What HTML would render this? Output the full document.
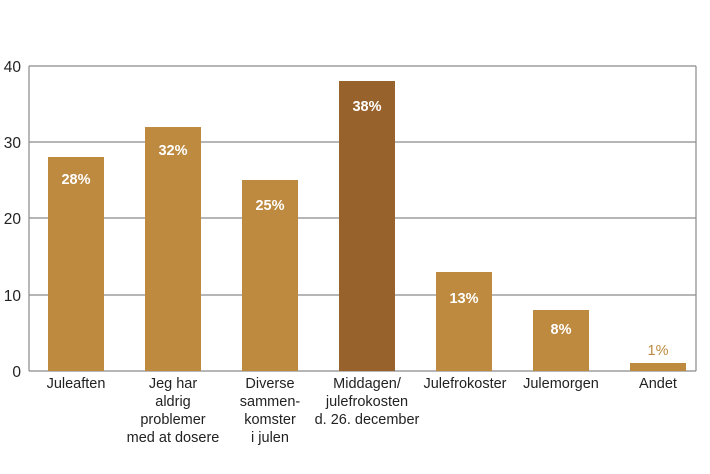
<!DOCTYPE html>
<html><head><style>body{margin:0;background:#fff}svg{display:block}text{font-family:"Liberation Sans",sans-serif}</style></head><body>
<svg width="710" height="474" xmlns="http://www.w3.org/2000/svg">
<g stroke="#8a8a8a" stroke-width="1.2">
<line x1="29" y1="66" x2="696" y2="66"/><line x1="29" y1="142" x2="696" y2="142"/><line x1="29" y1="218" x2="696" y2="218"/><line x1="29" y1="295" x2="696" y2="295"/><line x1="29" y1="371" x2="696" y2="371"/>
<line x1="29" y1="66" x2="29" y2="371"/><line x1="696" y1="66" x2="696" y2="371"/>
</g>
<g font-size="15.5" fill="#222" text-anchor="end">
<text x="21" y="72">40</text><text x="21" y="148">30</text><text x="21" y="224">20</text><text x="21" y="301">10</text><text x="21" y="377">0</text>
</g>
<g fill="#bd8a3f">
<rect x="48" y="157" width="56" height="214"/><rect x="145" y="127" width="56" height="244"/><rect x="242" y="180" width="56" height="191"/>
<rect x="339" y="81" width="56" height="290" fill="#98622c"/>
<rect x="436" y="272" width="56" height="99"/><rect x="533" y="310" width="56" height="61"/><rect x="630" y="363" width="56" height="8"/>
</g>
<g font-size="14.5" font-weight="bold" fill="#fff" text-anchor="middle">
<text x="76" y="184">28%</text><text x="173" y="155">32%</text><text x="270" y="210">25%</text><text x="367" y="111">38%</text><text x="464" y="303">13%</text><text x="561" y="334">8%</text>
<text x="658" y="355" fill="#bd8a3f" font-weight="normal">1%</text>
</g>
<g font-size="14.5" fill="#222" text-anchor="middle">
<text x="76" y="388">Juleaften</text>
<text x="173" y="388">Jeg har</text><text x="173" y="406">aldrig</text><text x="173" y="424">problemer</text><text x="173" y="442">med at dosere</text>
<text x="270" y="388">Diverse</text><text x="270" y="406">sammen-</text><text x="270" y="424">komster</text><text x="270" y="442">i julen</text>
<text x="367" y="388">Middagen/</text><text x="367" y="406">julefrokosten</text><text x="367" y="424">d. 26. december</text>
<text x="465" y="388">Julefrokoster</text><text x="561" y="388">Julemorgen</text><text x="658" y="388">Andet</text>
</g>
</svg>
</body></html>
